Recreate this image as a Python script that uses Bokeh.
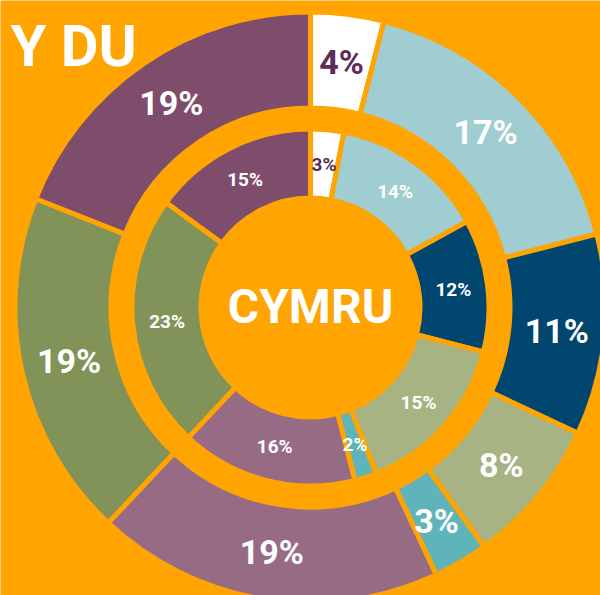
import math
from bokeh.plotting import figure
from bokeh.models import Range1d, ColumnDataSource
from bokeh.core.properties import value
from bokeh.embed import file_html
from bokeh.resources import INLINE

# ---- data ----
categories = ["A", "B", "C", "D", "E", "F", "G", "H"]
colors = ["#ffffff", "#a0cdd1", "#00466f", "#a7b383", "#5fb4ba", "#986b85", "#82935a", "#7d4d6b"]
uk_values = [4, 17, 11, 8, 3, 19, 19, 19]       # Y DU (outer ring)
wales_values = [3, 14, 12, 15, 2, 16, 23, 15]   # CYMRU (inner ring)
label_colors = ["#5c2d57", "white", "white", "white", "white", "white", "white", "white"]

ORANGE = "#ffa400"
FONT = "Roboto"

W, H = 600, 595
p = figure(width=W, height=H, output_backend="svg", toolbar_location=None,
           x_range=Range1d(0, 600), y_range=Range1d(0, 595),
           min_border=0, background_fill_color=ORANGE, border_fill_color=ORANGE)
p.axis.visible = False
p.grid.visible = False
p.outline_line_color = None

cx, cy = 310, 288


def ring(vals, r_in, r_out, size):
    total = float(sum(vals))
    starts, ends, lx, ly, txt = [], [], [], [], []
    a = math.pi / 2
    for v in vals:
        span = 2 * math.pi * v / total
        s, e = a - span, a
        starts.append(s)
        ends.append(e)
        m = (s + e) / 2
        rm = (r_in + r_out) / 2
        lx.append(cx + rm * math.cos(m))
        ly.append(cy + rm * math.sin(m))
        txt.append(f"{v}%")
        a = s
    src = ColumnDataSource(dict(start=starts, end=ends, color=colors,
                                lx=lx, ly=ly, txt=txt, tc=label_colors))
    p.annular_wedge(x=cx, y=cy, inner_radius=r_in - 2.5, outer_radius=r_out + 2.5,
                    start_angle="start", end_angle="end", fill_color="color",
                    line_color=ORANGE, line_width=5, source=src)
    p.text(x="lx", y="ly", text="txt", text_color="tc", text_align="center",
           text_baseline="middle", text_font=value(FONT), text_font_style="bold",
           text_font_size=size, source=src)


ring(uk_values, 202, 293, "34px")
ring(wales_values, 112, 176, "19px")

p.text(x=[cx], y=[cy + 1], text=["CYMRU"], text_color="white", text_align="center",
       text_baseline="middle", text_font=value(FONT), text_font_style="bold",
       text_font_size="48px")
p.text(x=[10], y=[550], text=["Y DU"], text_color="white", text_align="left",
       text_baseline="middle", text_font=value(FONT), text_font_style="bold",
       text_font_size="58px")

open("out.html", "w").write(file_html(p, INLINE))
